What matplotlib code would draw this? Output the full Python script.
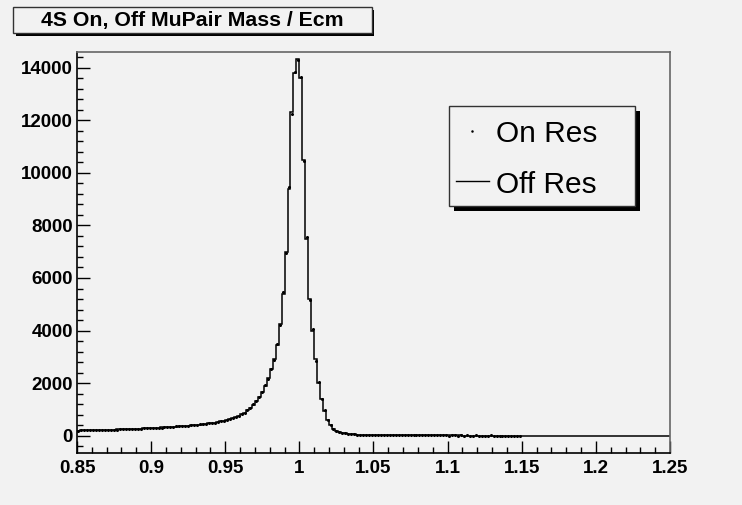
import numpy as np
import matplotlib
matplotlib.use("Agg")
import matplotlib.pyplot as plt
from matplotlib.patches import Rectangle
from matplotlib.lines import Line2D

# ---- data ----
title = "4S On, Off MuPair Mass / Ecm"
bin_lo, bin_hi, nbins = 0.85, 1.25, 200

off_res = [
    192, 198, 203, 200, 208, 211, 214, 217, 215, 221,
    225, 229, 228, 235, 239, 243, 247, 251, 256, 261,
    266, 270, 276, 281, 287, 293, 299, 305, 311, 318,
    325, 332, 339, 347, 355, 363, 372, 381, 391, 401,
    412, 424, 437, 451, 466, 482, 500, 520, 545, 570,
    598, 628, 660, 700, 748, 810, 880, 960, 1060, 1180,
    1310, 1470, 1660, 1900, 2180, 2520, 2900, 3450, 4250, 5400,
    7000, 9400, 12300, 13800, 14340, 13600, 10500, 7500, 5200, 4000,
    2900, 2000, 1400, 950, 600, 400, 260, 185, 140, 108,
    86, 70, 57, 47, 39, 33, 28, 24, 21, 18,
    16, 15, 14, 13, 13, 12, 12, 11, 11, 10,
    10, 10, 9, 9, 9, 8, 8, 8, 8, 7,
    7, 7, 7, 7, 6, 6, 6, 6, 6, 6,
    5, 5, 5, 5, 5, 5, 5, 5, 5, 5,
    4, 4, 4, 4, 4, 4, 4, 4, 4, 4,
    3, 3, 3, 3, 3, 3, 3, 3, 3, 3,
    3, 3, 3, 3, 3, 3, 3, 3, 3, 3,
    3, 3, 3, 3, 3, 3, 3, 3, 3, 3,
    3, 3, 3, 3, 3, 3, 3, 3, 3, 3,
    3, 3, 3, 3, 3, 3, 3, 3, 3, 3,
]
on_res = [
    195, 197, 205, 201, 206, 213, 212, 219, 216, 220,
    227, 228, 230, 233, 241, 242, 249, 250, 258, 260,
    268, 271, 274, 283, 286, 295, 298, 307, 310, 320,
    323, 334, 338, 349, 353, 365, 370, 383, 389, 403,
    410, 426, 435, 453, 464, 485, 498, 523, 542, 573,
    595, 631, 657, 704, 745, 815, 876, 965, 1055, 1190,
    1300, 1480, 1650, 1920, 2160, 2540, 2880, 3480, 4220, 5450,
    6950, 9450, 12250, 13850, 14300, 13650, 10450, 7550, 5150, 4050,
    2850, 2030, 1380, 960, 590, 410, 255, 190, 138, 110,
    84, 72, 56, 48, 38, 34, 27, 25, 20, 19,
    15, 16, 13, 14, 12, 13, 11, 12, 10, 11,
    9, 10, 9, 8, 10, 8, 7, 9, 7, 8,
    7, 6, 8, 6, 7, 5, 6, 7, 5, 6,
    5, 6, 4, 5, 6, 4, 5, 5, 4, 6,
    4, 5, 4, 4, 5, 3, 4, 4, 3, 4,
]

yticks = [0, 2000, 4000, 6000, 8000, 10000, 12000, 14000]
xticks = [0.85, 0.9, 0.95, 1.0, 1.05, 1.1, 1.15, 1.2, 1.25]
xticklabels = ["0.85", "0.9", "0.95", "1", "1.05", "1.1", "1.15", "1.2", "1.25"]

# ---- figure ----
bg = "#f2f2f2"
W, H = 742, 505
fig = plt.figure(figsize=(W / 100, H / 100), dpi=100, facecolor=bg)
plt.rcParams["font.family"] = ["Liberation Sans", "DejaVu Sans"]

def fx(px):
    return px / W

def fy(py):
    return 1 - py / H

ax_l, ax_r, ax_t, ax_b = 77, 670, 52, 453
ax = fig.add_axes([fx(ax_l), fy(ax_b), (ax_r - ax_l) / W, (ax_b - ax_t) / H])
ax.set_facecolor(bg)

edges = np.linspace(bin_lo, bin_hi, nbins + 1)
centers = 0.5 * (edges[:-1] + edges[1:])
ax.stairs(off_res, edges, color="black", lw=1.1, baseline=None)
n_on = len(on_res)
ax.plot(centers[:n_on], on_res, ls="none", marker="o", ms=1.2, color="black")

ax.set_xlim(bin_lo, bin_hi)
ax.set_ylim(-660, 14600)
ax.set_xticks(xticks)
ax.set_xticklabels(xticklabels)
ax.set_xticks(np.arange(0.85, 1.2501, 0.01), minor=True)
ax.set_yticks(yticks)
ax.set_yticks(np.arange(-400, 14601, 400), minor=True)
ax.tick_params(axis="both", which="major", direction="in", length=9, width=1.0,
               labelsize=13.5, colors="black")
ax.tick_params(axis="both", which="minor", direction="in", length=4.5, width=1.0)
ax.tick_params(axis="x", pad=5)
ax.tick_params(axis="y", pad=3)
for lab in ax.get_xticklabels() + ax.get_yticklabels():
    lab.set_fontweight("bold")
for s in ["left", "bottom"]:
    ax.spines[s].set_color("black")
    ax.spines[s].set_linewidth(1.2)
for s in ["right", "top"]:
    ax.spines[s].set_color("#666666")
    ax.spines[s].set_linewidth(1.2)

# ---- title box ----
def shadow_box(x0, y0, x1, y1, off, lw=1.0):
    fig.patches.append(Rectangle((fx(x0 + off), fy(y1 + off)), (x1 - x0) / W, (y1 - y0) / H,
                                 transform=fig.transFigure, facecolor="black",
                                 edgecolor="black", lw=0, zorder=1))
    fig.patches.append(Rectangle((fx(x0), fy(y1)), (x1 - x0) / W, (y1 - y0) / H,
                                 transform=fig.transFigure, facecolor=bg,
                                 edgecolor="#333333", lw=lw, zorder=2))

shadow_box(13, 7, 372, 33, 2.5)
fig.text(fx(192), fy(20.5), title, ha="center", va="center", fontsize=15.3,
         fontweight="bold", zorder=3)

# ---- legend box ----
shadow_box(449, 106, 635, 206, 5)
fig.lines.append(Line2D([fx(472)], [fy(131)], transform=fig.transFigure, ls="none",
                        marker="o", ms=0.8, color="black", zorder=3))
fig.lines.append(Line2D([fx(456), fx(489)], [fy(181), fy(181)], transform=fig.transFigure,
                        color="black", lw=1.0, zorder=3))
fig.text(fx(496), fy(134), "On Res", ha="left", va="center", fontsize=21.5, zorder=3)
fig.text(fx(496), fy(185), "Off Res", ha="left", va="center", fontsize=21.5, zorder=3)

fig.savefig("out.png", dpi=100, facecolor=bg)
